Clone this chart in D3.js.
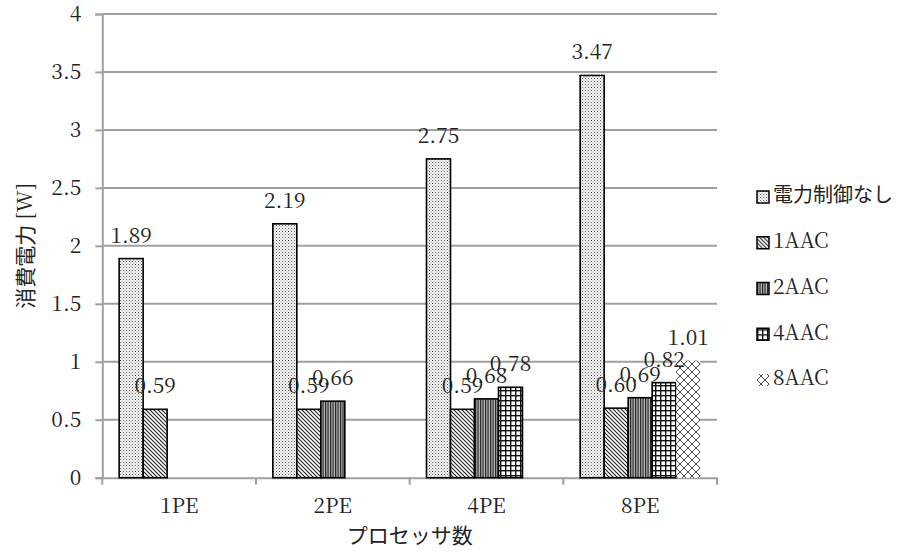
<!DOCTYPE html>
<html>
<head>
<meta charset="utf-8">
<script src="https://cdn.jsdelivr.net/npm/d3@7/dist/d3.min.js"></script>
<style>
  html, body { margin: 0; padding: 0; background: #fff; }
  svg { display: block; }
  .serif { font-family: "Noto Serif CJK JP", "Liberation Serif", serif; }
  .cjk { font-family: "Noto Sans CJK JP", "Noto Sans CJK SC", sans-serif; }
</style>
</head>
<body>
<script>
const categories = ["1PE", "2PE", "4PE", "8PE"];
const seriesNames = ["電力制御なし", "1AAC", "2AAC", "4AAC", "8AAC"];
const noControl = [1.89, 2.19, 2.75, 3.47];
const aac1 = [0.59, 0.59, 0.59, 0.60];
const aac2 = [null, 0.66, 0.68, 0.69];
const aac4 = [null, null, 0.78, 0.82];
const aac8 = [null, null, null, 1.01];
const yTicks = [0, 0.5, 1, 1.5, 2, 2.5, 3, 3.5, 4];
const yTitleMain = "消費電力";
const yTitleUnit = " [W]";
const xTitle = "プロセッサ数";

const seriesValues = [noControl, aac1, aac2, aac4, aac8];
const patternIds = ["pDots", "pDiag", "pVert", "pGrid", "pCross"];

const W = 919, H = 555;
const plot = { left: 102.3, right: 717, top: 14, bottom: 477.7 };
const gridColor = "#a0a0a0";

const svg = d3.select("body").append("svg").attr("width", W).attr("height", H);

// patterns
const defs = svg.append("defs");
{
  const p = defs.append("pattern").attr("id", "pDots").attr("patternUnits", "userSpaceOnUse").attr("width", 3).attr("height", 3);
  p.append("rect").attr("width", 3).attr("height", 3).attr("fill", "#fff");
  p.append("rect").attr("x", 0).attr("y", 0).attr("width", 1).attr("height", 1).attr("fill", "#555");
  p.append("rect").attr("x", 1.5).attr("y", 1.5).attr("width", 1).attr("height", 1).attr("fill", "#777");
}
{
  const p = defs.append("pattern").attr("id", "pDiag").attr("patternUnits", "userSpaceOnUse").attr("width", 4).attr("height", 4);
  p.append("rect").attr("width", 4).attr("height", 4).attr("fill", "#fff");
  p.append("path").attr("d", "M-1,-1 L5,5 M-1,3 L1,5 M3,-1 L5,1").attr("stroke", "#222").attr("stroke-width", 1.1);
}
{
  const p = defs.append("pattern").attr("id", "pVert").attr("patternUnits", "userSpaceOnUse").attr("width", 2.5).attr("height", 4);
  p.append("rect").attr("width", 2.5).attr("height", 4).attr("fill", "#bbb");
  p.append("rect").attr("x", 0).attr("width", 1.2).attr("height", 4).attr("fill", "#222");
}
{
  const p = defs.append("pattern").attr("id", "pGrid").attr("patternUnits", "userSpaceOnUse").attr("width", 5).attr("height", 5);
  p.append("rect").attr("width", 5).attr("height", 5).attr("fill", "#fff");
  p.append("rect").attr("x", 0).attr("y", 0).attr("width", 1.4).attr("height", 5).attr("fill", "#111");
  p.append("rect").attr("x", 0).attr("y", 0).attr("width", 5).attr("height", 1.4).attr("fill", "#111");
}
{
  const p = defs.append("pattern").attr("id", "pCross").attr("patternUnits", "userSpaceOnUse").attr("width", 8).attr("height", 8);
  p.append("rect").attr("width", 8).attr("height", 8).attr("fill", "#fff");
  p.append("path").attr("d", "M0,0 L8,8 M8,0 L0,8").attr("stroke", "#333").attr("stroke-width", 0.9);
}

const x0 = d3.scaleBand().domain(categories).range([plot.left, plot.right]).paddingInner(0).paddingOuter(0);
const x1 = d3.scaleBand().domain(seriesNames).range([16.85, x0.bandwidth() - 16.85]).padding(0);
const y = d3.scaleLinear().domain([0, 4]).range([plot.bottom, plot.top]);

// gridlines
svg.append("g").selectAll("line").data(yTicks.filter(d => d > 0)).join("line")
  .attr("x1", plot.left).attr("x2", plot.right)
  .attr("y1", d => y(d)).attr("y2", d => y(d))
  .attr("stroke", gridColor).attr("stroke-width", 2);

// y axis
const yAxis = svg.append("g").attr("transform", `translate(${plot.left},0)`)
  .call(d3.axisLeft(y).tickValues(yTicks).tickSize(7).tickPadding(14).tickFormat(d3.format("")));
yAxis.attr("font-family", null).attr("font-size", null);
yAxis.select(".domain").attr("stroke", gridColor).attr("stroke-width", 2);
yAxis.selectAll(".tick line").attr("stroke", gridColor).attr("stroke-width", 2);
yAxis.selectAll(".tick text").attr("class", "serif").style("font-size", "21px").attr("fill", "#222");

// x axis
const xAxis = svg.append("g").attr("transform", `translate(0,${plot.bottom})`)
  .call(d3.axisBottom(x0).tickSize(0).tickPadding(20));
xAxis.attr("font-family", null).attr("font-size", null);
xAxis.select(".domain").attr("stroke", gridColor).attr("stroke-width", 2);
xAxis.selectAll(".tick text").attr("class", "serif").style("font-size", "21px").attr("fill", "#222");
// category separator ticks
const sepTicks = categories.map(c => x0(c)).concat([plot.right]);
svg.append("g").selectAll("line").data(sepTicks).join("line")
  .attr("x1", d => d).attr("x2", d => d)
  .attr("y1", plot.bottom).attr("y2", plot.bottom + 7)
  .attr("stroke", gridColor).attr("stroke-width", 2);

// bars
const barData = [];
seriesNames.forEach((s, si) => {
  categories.forEach((c, ci) => {
    const v = seriesValues[si][ci];
    if (v != null) barData.push({ s, si, c, v });
  });
});

svg.append("g").selectAll("rect").data(barData).join("rect")
  .attr("x", d => x0(d.c) + x1(d.s))
  .attr("y", d => y(d.v))
  .attr("width", x1.bandwidth())
  .attr("height", d => y(0) - y(d.v))
  .attr("fill", d => `url(#${patternIds[d.si]})`)
  .attr("stroke", d => d.si === 4 ? "none" : "#000")
  .attr("stroke-width", 1.6);

// labels
svg.append("g").selectAll("text").data(barData).join("text")
  .attr("class", "serif")
  .attr("x", d => x0(d.c) + x1(d.s) + x1.bandwidth() / 2)
  .attr("y", d => y(d.v) - 16)
  .attr("text-anchor", "middle")
  .style("font-size", "21px")
  .attr("fill", "#222")
  .text(d => d3.format(".2f")(d.v));

// axis titles
const yt = svg.append("text")
  .attr("transform", `translate(27,${(plot.top + plot.bottom) / 2}) rotate(-90)`)
  .attr("text-anchor", "middle").attr("dominant-baseline", "middle")
  .style("font-size", "21px").attr("fill", "#222");
yt.append("tspan").attr("class", "cjk").text(yTitleMain);
yt.append("tspan").attr("class", "serif").text(yTitleUnit);

svg.append("text")
  .attr("class", "cjk")
  .attr("x", (plot.left + plot.right) / 2).attr("y", 537)
  .attr("text-anchor", "middle").attr("dominant-baseline", "middle")
  .style("font-size", "21px").attr("fill", "#222")
  .text(xTitle);

// legend
const legendY = d3.scalePoint().domain(seriesNames).range([197, 380]);
const lg = svg.append("g").selectAll("g").data(seriesNames).join("g")
  .attr("transform", d => `translate(757,${legendY(d)})`);
lg.append("rect").attr("x", 0).attr("y", -6).attr("width", 12).attr("height", 12)
  .attr("fill", (d, i) => `url(#${patternIds[i]})`)
  .attr("stroke", (d, i) => i === 4 ? "none" : "#000").attr("stroke-width", 1.5);
lg.append("text").attr("x", 16).attr("y", 0).attr("dominant-baseline", "middle")
  .attr("class", (d, i) => i === 0 ? "cjk" : "serif")
  .style("font-size", (d, i) => i === 0 ? "20px" : "21px")
  .attr("fill", "#222")
  .text(d => d);
</script>
</body>
</html>
